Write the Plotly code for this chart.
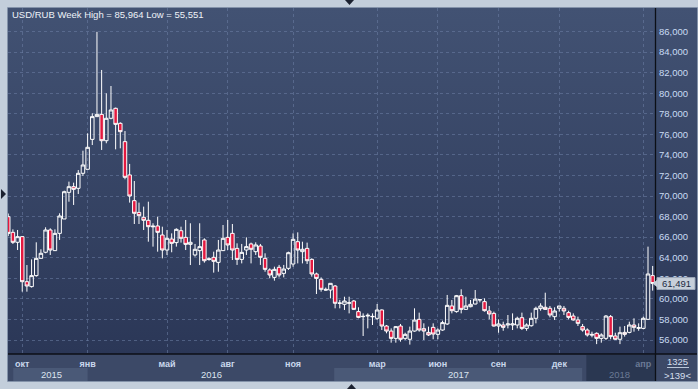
import base64
import plotly.graph_objects as go

# ---------------- data (weekly USD/RUB bars, index-based time axis) ----------------
open_ = [67.99, 66.47, 65.50, 66.05, 61.67, 61.19, 62.26, 63.94, 64.53, 66.70,
         64.69, 66.37, 67.77, 70.36, 70.91, 70.75, 72.21, 72.60, 75.51, 77.72,
         77.94, 75.38, 77.56, 78.53, 77.07, 75.29, 72.05, 69.55, 68.41, 67.93,
         67.64, 67.09, 67.09, 66.21, 64.75, 65.82, 65.47, 66.63, 65.98, 65.30,
         64.27, 64.69, 65.73, 63.91, 64.04, 63.55, 64.69, 65.98, 66.37, 64.91,
         63.84, 64.75, 65.34, 64.59, 65.14, 63.94, 62.81, 62.09, 63.07, 62.48,
         62.97, 63.39, 65.56, 64.59, 64.91, 63.84, 62.42, 61.90, 60.93, 60.86,
         61.25, 59.60, 59.47, 59.57, 59.79, 58.76, 58.27, 58.33, 58.30, 58.11,
         58.92, 57.36, 56.87, 56.16, 57.36, 56.16, 56.07, 56.87, 58.01, 57.10,
         56.74, 57.23, 56.55, 56.97, 57.56, 59.31, 58.76, 60.31, 58.98, 59.24,
         59.50, 59.90, 59.73, 58.82, 58.59, 57.36, 57.46, 57.46, 57.46, 57.46,
         58.17, 57.13, 57.39, 58.11, 59.05, 59.18, 59.08, 58.27, 59.08, 59.08,
         58.66, 58.33, 57.95, 57.30, 56.97, 56.55, 56.65, 56.16, 56.16, 58.27,
         56.39, 56.07, 56.74, 56.74, 57.46, 57.13, 57.13, 58.01, 62.26]
high = [68.30, 66.76, 66.70, 66.11, 63.29, 63.84, 65.50, 64.82, 66.96, 66.86,
        66.76, 68.32, 70.52, 71.40, 71.30, 72.53, 74.41, 76.10, 78.04, 85.964,
        82.26, 79.99, 80.70, 78.60, 77.17, 76.32, 73.12, 71.46, 69.36, 68.97,
        69.45, 67.35, 67.99, 67.02, 66.70, 66.37, 66.86, 67.02, 67.67, 67.35,
        65.34, 67.35, 65.89, 64.04, 64.59, 65.73, 67.18, 67.67, 67.28, 65.40,
        65.34, 65.98, 65.47, 65.50, 65.34, 64.43, 62.97, 63.13, 63.30, 63.30,
        64.59, 66.37, 66.47, 65.56, 65.47, 63.94, 62.55, 62.09, 61.10, 61.51,
        61.35, 59.90, 60.21, 60.21, 59.89, 59.18, 58.59, 58.59, 58.59, 59.50,
        58.98, 57.46, 57.13, 57.36, 57.56, 56.71, 57.30, 59.08, 58.66, 57.62,
        57.30, 57.62, 57.13, 57.88, 60.38, 59.89, 60.38, 60.93, 60.21, 59.89,
        60.86, 59.98, 60.05, 59.31, 58.76, 58.01, 57.78, 58.43, 58.59, 58.27,
        58.66, 57.62, 58.66, 59.24, 59.57, 60.60, 59.31, 59.18, 59.31, 59.31,
        58.85, 58.59, 58.27, 57.56, 57.13, 56.81, 56.74, 56.65, 58.43, 58.43,
        56.71, 57.30, 57.36, 57.78, 58.11, 57.62, 58.27, 65.08, 63.20]
low = [66.10, 65.34, 64.75, 60.70, 60.70, 61.10, 62.16, 63.91, 64.43, 64.27,
       64.69, 65.73, 67.77, 69.45, 69.13, 70.20, 71.95, 72.60, 74.96, 77.70,
       74.48, 75.13, 77.46, 74.54, 74.64, 71.63, 69.36, 67.28, 67.28, 66.70,
       65.56, 65.08, 64.59, 63.94, 64.27, 64.53, 65.08, 65.47, 64.75, 63.29,
       64.11, 63.29, 63.52, 63.71, 62.55, 62.64, 64.69, 64.75, 63.78, 63.30,
       63.45, 64.27, 63.45, 64.27, 63.30, 62.64, 62.00, 61.77, 62.09, 62.09,
       62.81, 63.13, 63.45, 63.45, 63.39, 62.16, 60.47, 60.70, 60.80, 60.05,
       59.08, 59.08, 58.92, 58.59, 58.92, 58.11, 56.39, 57.13, 57.46, 57.95,
       56.97, 56.65, 55.74, 55.74, 55.84, 56.00, 55.551, 56.81, 56.81, 56.00,
       56.39, 56.07, 56.07, 56.90, 57.46, 58.59, 58.66, 58.59, 58.92, 59.18,
       59.47, 59.66, 58.76, 58.01, 57.30, 56.71, 56.90, 57.13, 56.97, 57.13,
       56.97, 56.90, 57.30, 57.62, 58.85, 58.92, 58.20, 57.95, 58.76, 58.43,
       58.01, 57.88, 57.36, 56.81, 56.33, 56.26, 55.60, 55.74, 56.00, 56.07,
       56.00, 55.60, 56.33, 56.65, 56.81, 56.90, 57.04, 57.95, 60.80]
close = [66.37, 65.50, 66.05, 61.67, 61.25, 62.26, 63.94, 64.43, 66.70, 64.75,
         66.37, 68.06, 70.42, 70.91, 70.65, 72.21, 73.02, 74.74, 77.72, 77.94,
         75.38, 77.56, 78.37, 76.97, 76.26, 71.82, 70.00, 68.32, 68.09, 67.64,
         67.02, 67.02, 66.47, 64.75, 65.89, 65.40, 66.76, 65.89, 65.30, 65.50,
         64.82, 65.08, 63.71, 63.84, 63.65, 64.75, 65.89, 65.24, 64.75, 63.84,
         64.52, 65.08, 64.82, 65.24, 64.04, 62.87, 62.32, 62.87, 62.32, 62.90,
         64.49, 65.79, 64.75, 64.82, 63.71, 62.42, 61.99, 60.93, 60.86, 61.51,
         59.57, 59.57, 59.79, 59.62, 58.98, 58.20, 58.30, 58.40, 58.27, 58.92,
         57.36, 56.87, 56.16, 57.30, 56.07, 56.55, 56.87, 57.94, 56.97, 56.87,
         56.49, 56.58, 56.97, 57.69, 59.37, 58.85, 60.31, 58.98, 59.31, 59.47,
         59.98, 59.92, 58.85, 58.53, 57.36, 57.56, 57.23, 57.56, 57.56, 58.11,
         57.13, 57.46, 58.11, 59.08, 59.31, 58.98, 58.43, 58.82, 59.31, 58.82,
         58.20, 57.95, 57.62, 56.97, 56.49, 56.49, 56.16, 56.49, 58.33, 56.33,
         56.07, 56.71, 56.55, 57.46, 57.23, 57.20, 58.11, 62.42, 61.491]
bar_index = list(range(len(open_)))

month_idx = [3, 17, 34, 47, 61, 79, 92, 105, 118, 136]
month_lbl = ["окт", "янв", "май", "авг", "ноя", "мар", "июн", "сен", "дек", "апр"]
year_lbl = ["2015", "2016", "2017", "2018"]
year_center = [9.2, 43.5, 96.4, 130.8]
year_box_light = [(1.07, 17.0), (69.8, 122.9)]
year_box_dark = (123.8, 140.0)
y_ticks = list(range(56, 87, 2))
y_tick_text = [f"{v},000" for v in y_ticks]
last_price = 61.491
title_text = "USD/RUB Week High = 85,964 Low = 55,551"

# ---------------- geometry helpers ----------------
W, H = 698, 389
ML, MR, MT, MB = 8, 43, 8, 36
PW, PH = W - ML - MR, H - MT - MB


def px(x):
    return (x - ML) / PW


def py(y):
    return (H - MB - y) / PH


FONT = "Liberation Sans, Arial, sans-serif"
BAND = "#3c4967"
LIGHT_BOX = "#4a5977"
DARK_BOX = "#2a3751"
GRID = "rgba(110,128,165,0.55)"

fig = go.Figure()
fig.add_trace(go.Candlestick(
    x=bar_index, open=open_, high=high, low=low, close=close,
    increasing=dict(line=dict(color="#ffffff", width=1), fillcolor="rgba(0,0,0,0)"),
    decreasing=dict(line=dict(color="#ffffff", width=1), fillcolor="#e3183f"),
    whiskerwidth=0, hoverinfo="skip", showlegend=False,
))

# gradient background for the chart panel
svg = ("<svg xmlns='http://www.w3.org/2000/svg' width='10' height='100' preserveAspectRatio='none'>"
       "<defs><linearGradient id='g' x1='0' y1='0' x2='0' y2='1'>"
       "<stop offset='0' stop-color='#425273'/><stop offset='1' stop-color='#2b3757'/>"
       "</linearGradient></defs><rect width='10' height='100' fill='url(#g)'/></svg>")
src = "data:image/svg+xml;base64," + base64.b64encode(svg.encode()).decode()
images = [dict(source=src, xref="paper", yref="paper", x=px(8), y=py(8),
               sizex=px(697) - px(8), sizey=py(8) - py(354), xanchor="left", yanchor="top",
               sizing="stretch", layer="below")]

shapes = []
# x-axis band and right-bottom cell
shapes.append(dict(type="rect", xref="paper", yref="paper", x0=px(8), x1=px(697), y0=py(381), y1=py(354),
                   fillcolor=BAND, line=dict(width=0), layer="below"))
for a, b in year_box_light:
    shapes.append(dict(type="rect", xref="x", yref="paper", x0=a, x1=b, y0=py(381), y1=py(368),
                       fillcolor=LIGHT_BOX, line=dict(width=0), layer="below"))
shapes.append(dict(type="rect", xref="x", yref="paper", x0=year_box_dark[0], x1=year_box_dark[1],
                   y0=py(381), y1=py(355), fillcolor=DARK_BOX, line=dict(width=0), layer="below"))
# separators
shapes.append(dict(type="line", xref="paper", yref="paper", x0=px(8), x1=px(697), y0=py(354), y1=py(354),
                   line=dict(color="#0c0f16", width=1.6), layer="above"))
shapes.append(dict(type="line", xref="paper", yref="paper", x0=px(655.5), x1=px(655.5), y0=py(8), y1=py(381),
                   line=dict(color="#0c0f16", width=1.3), layer="above"))
# underline in corner cell
shapes.append(dict(type="line", xref="paper", yref="paper", x0=px(667), x1=px(689), y0=py(367.5), y1=py(367.5),
                   line=dict(color="#b9c6d8", width=1), layer="above"))
# panel frame
shapes.append(dict(type="rect", xref="paper", yref="paper", x0=px(7.5), x1=px(697.5), y0=py(381.5), y1=py(7.5),
                   line=dict(color="#8493aa", width=1), fillcolor="rgba(0,0,0,0)", layer="above"))
# price tag
shapes.append(dict(type="rect", xref="paper", yref="y", x0=px(657), x1=px(695),
                   y0=last_price - 0.58, y1=last_price + 0.58,
                   fillcolor="#c7cfda", line=dict(color="#9aa6b8", width=1), layer="above"))
shapes.append(dict(type="path", xref="paper", yref="paper",
                   path=(f"M {px(652.5)},{py(283.6)} L {px(657.5)},{py(279.6)} "
                         f"L {px(657.5)},{py(287.6)} Z"),
                   fillcolor="#c7cfda", line=dict(width=0), layer="above"))
# small navigation triangles
for path in [
    f"M {px(345)},{py(0)} L {px(354)},{py(0)} L {px(349.5)},{py(5)} Z",
    f"M {px(1)},{py(189)} L {px(6)},{py(194)} L {px(1)},{py(199)} Z",
    f"M {px(347)},{py(389)} L {px(356)},{py(389)} L {px(351.5)},{py(384)} Z",
]:
    shapes.append(dict(type="path", xref="paper", yref="paper", path=path,
                       fillcolor="#1b2130", line=dict(width=0), layer="above"))

annotations = [
    dict(text=title_text, xref="paper", yref="paper", x=px(10), y=py(15), xanchor="left", yanchor="middle",
         showarrow=False, font=dict(family=FONT, size=9.5, color="#eef2f8")),
    dict(text=f"{last_price:.3f}".replace(".", ","), xref="paper", yref="y", x=px(676), y=last_price,
         xanchor="center", yanchor="middle", showarrow=False,
         font=dict(family=FONT, size=9.5, color="#1c2a42")),
    dict(text="1325", xref="paper", yref="paper", x=px(677), y=py(361), xanchor="center", yanchor="middle",
         showarrow=False, font=dict(family=FONT, size=9.5, color="#d5dfee")),
    dict(text=">139<", xref="paper", yref="paper", x=px(677), y=py(375), xanchor="center", yanchor="middle",
         showarrow=False, font=dict(family=FONT, size=9.5, color="#d5dfee")),
]
for lbl, c in zip(year_lbl, year_center):
    col = "#6b7a95" if lbl == "2018" else "#dbe3ef"
    annotations.append(dict(text=lbl, xref="x", yref="paper", x=c, y=py(374), xanchor="center",
                            yanchor="middle", showarrow=False, font=dict(family=FONT, size=9.5, color=col)))

tick_text = [f"<span style='color:#6b7a95'>{m}</span>" if m == "апр" else m for m in month_lbl]

fig.update_layout(
    width=W, height=H, margin=dict(l=ML, r=MR, t=MT, b=MB, pad=0),
    paper_bgcolor="#c3cedb", plot_bgcolor="rgba(0,0,0,0)",
    boxgap=0.25, boxgroupgap=0,
    images=images, shapes=shapes, annotations=annotations,
    showlegend=False, hovermode=False,
    xaxis=dict(range=[-0.05, 138.5], tickmode="array", tickvals=month_idx, ticktext=tick_text,
               showgrid=True, gridcolor=GRID, griddash="3px,3px", gridwidth=1,
               zeroline=False, showline=False, ticks="", ticklabelstandoff=4,
               tickfont=dict(family=FONT, size=9, color="#c9d7ec", weight="bold"),
               rangeslider=dict(visible=False), fixedrange=True),
    yaxis=dict(side="right", range=[54.736, 88.285], tickmode="array", tickvals=y_ticks,
               ticktext=y_tick_text, showgrid=True, gridcolor=GRID, griddash="3px,3px", gridwidth=1,
               zeroline=False, showline=False, ticks="", ticklabelstandoff=3,
               tickfont=dict(family=FONT, size=9.5, color="#c9dbf3"), fixedrange=True),
)

fig.write_html("out.html", config={"displayModeBar": False, "staticPlot": True},
               post_script="document.body.style.margin='0';document.body.style.padding='0';"
                           "document.body.style.overflow='hidden';")
